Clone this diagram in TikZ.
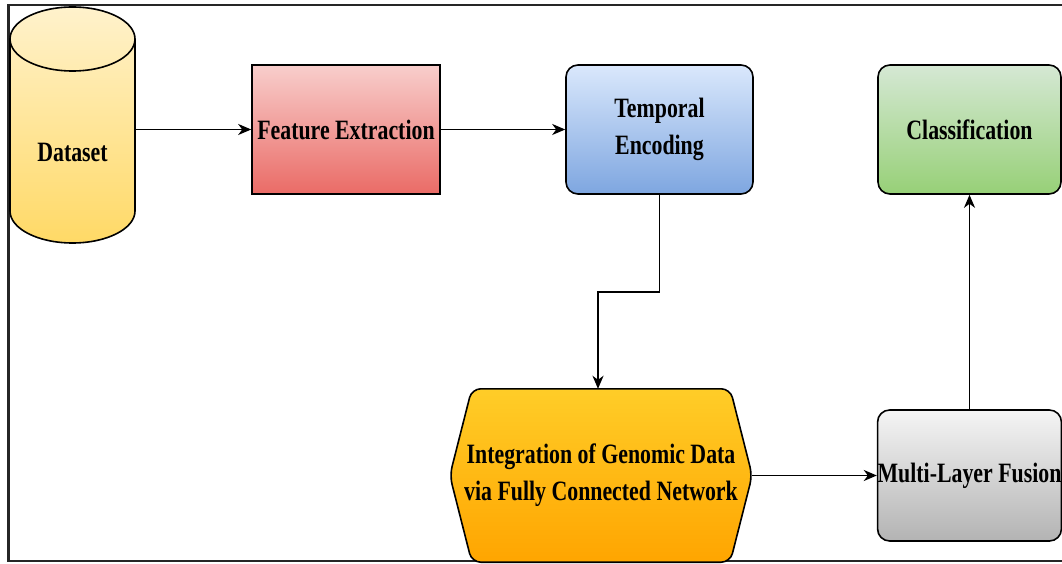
\documentclass[tikz,border=0pt]{standalone}
\usepackage{fontspec}
\setmainfont{Liberation Serif}[FakeStretch=0.78]
\usetikzlibrary{arrows.meta,calc}
\definecolor{dsTop}{HTML}{FFF2CC}\definecolor{dsBot}{HTML}{FFD966}
\definecolor{feTop}{HTML}{F8CECC}\definecolor{feBot}{HTML}{EA6B66}
\definecolor{teTop}{HTML}{DAE8FC}\definecolor{teBot}{HTML}{7EA6E0}
\definecolor{clTop}{HTML}{D5E8D4}\definecolor{clBot}{HTML}{97D077}
\definecolor{hxTop}{HTML}{FFCD28}\definecolor{hxBot}{HTML}{FFA500}
\definecolor{fuTop}{HTML}{F5F5F5}\definecolor{fuBot}{HTML}{B3B3B3}
\begin{document}
\begin{tikzpicture}[x=1pt,y=1pt,
  lbl/.style={font=\fontsize{28}{37}\selectfont\bfseries, align=center, text=black},
  boxbase/.style={lbl, draw=black, line width=1.6pt, inner sep=0pt},
  sqbox/.style={boxbase, rectangle, minimum width=188pt, minimum height=129pt},
  rbox/.style={boxbase, rectangle, rounded corners=12pt, minimum width=185pt, minimum height=129pt},
  arr/.style={line width=1.9pt, -{Stealth[length=13pt,width=11pt,inset=4pt]}}
]
\useasboundingbox (0,0) rectangle (1062,563);
% frame
\draw[line width=2.4pt, black!85] (1062,558) -- (8.5,558) -- (8.5,2) -- (1062,2);

% Dataset cylinder
\shade[top color=dsTop, bottom color=dsBot]
  (10,524) -- (10,352) arc[start angle=180,end angle=360,x radius=62.5,y radius=32]
  -- (135,524) arc[start angle=0,end angle=180,x radius=62.5,y radius=32] -- cycle;
\draw[line width=1.6pt]
  (10,524) -- (10,352) arc[start angle=180,end angle=360,x radius=62.5,y radius=32]
  -- (135,524) arc[start angle=0,end angle=180,x radius=62.5,y radius=32] -- cycle;
\draw[line width=1.6pt] (10,524) arc[start angle=180,end angle=360,x radius=62.5,y radius=32];
\node[minimum width=125pt, minimum height=236pt, inner sep=0pt] (ds) at (72.5,434) {};
\node[lbl] (dslabel) at (72.5,411) {Dataset};

% Feature Extraction
\node[sqbox, top color=feTop, bottom color=feBot] (fe) at (346,433.5) {Feature Extraction};
% Temporal Encoding
\node[rbox, minimum width=187pt, top color=teTop, bottom color=teBot] (te) at (659.5,433.5) {Temporal\\Encoding};
% Classification
\node[rbox, minimum width=183pt, top color=clTop, bottom color=clBot] (cl) at (969.5,433.5) {Classification};
% Multi-Layer Fusion
\node[rbox, minimum width=183pt, minimum height=131pt, top color=fuTop, bottom color=fuBot] (fu) at (969.5,87.5) {Multi-Layer Fusion};

% Hexagon
\node[minimum width=302pt, minimum height=173pt, inner sep=0pt] (hex) at (601,87.5) {};
\shade[top color=hxTop, bottom color=hxBot, rounded corners=9pt]
  ($(hex.north west)+(22,0)$) -- ($(hex.north east)+(-22,0)$) -- (hex.east)
  -- ($(hex.south east)+(-22,0)$) -- ($(hex.south west)+(22,0)$) -- (hex.west) -- cycle;
\draw[line width=1.6pt, rounded corners=9pt]
  ($(hex.north west)+(22,0)$) -- ($(hex.north east)+(-22,0)$) -- (hex.east)
  -- ($(hex.south east)+(-22,0)$) -- ($(hex.south west)+(22,0)$) -- (hex.west) -- cycle;
\node[lbl] (hexlabel) at (hex.center) {Integration of Genomic Data\\via Fully Connected Network};

% connectors
\draw[arr] (ds.east |- fe.west) -- (fe.west);
\draw[arr] (fe.east) -- (te.west);
\draw[arr] (te.south) |- ($(te.south)!0.5!(hex.north)$) -| ($(hex.north)+(-3,0)$);
\draw[arr] (hex.east) -- (fu.west);
\draw[arr] (fu.north) -- (cl.south);
\end{tikzpicture}
\end{document}
